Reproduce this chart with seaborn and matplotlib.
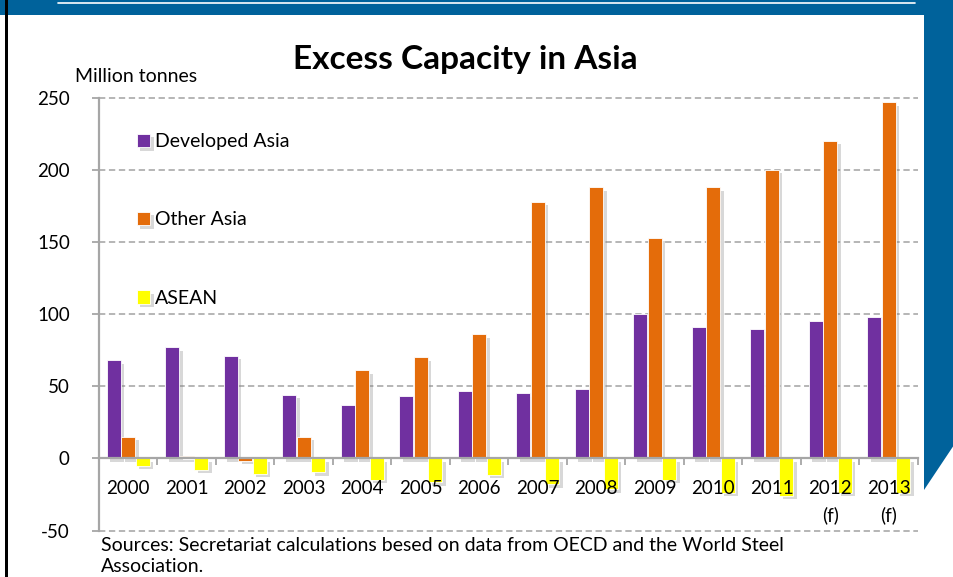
import matplotlib
matplotlib.use("Agg")
import matplotlib.pyplot as plt
import matplotlib.patheffects as pe
from matplotlib.patches import Rectangle, Polygon
import seaborn as sns
import pandas as pd
import numpy as np

# ---- data ----
years = ['2000', '2001', '2002', '2003', '2004', '2005', '2006',
         '2007', '2008', '2009', '2010', '2011', '2012', '2013']
year_labels = ['2000', '2001', '2002', '2003', '2004', '2005', '2006',
               '2007', '2008', '2009', '2010', '2011', '2012\n(f)', '2013\n(f)']
developed_asia = [68, 77, 71, 44, 37, 43, 47, 45, 48, 100, 91, 90, 95, 98]
other_asia = [15, 1.5, -1.5, 15, 61, 70, 86, 178, 188, 153, 188, 200, 220, 247]
asean = [-5, -8, -10.5, -9.5, -15, -16.5, -11.5, -18, -21.5, -15, -24, -26, -24, -24]
series_names = ['Developed Asia', 'Other Asia', 'ASEAN']
series_colors = ['#7030A0', '#E46C0A', '#FFFF00']
y_ticks = [-50, 0, 50, 100, 150, 200, 250]

df = pd.DataFrame({
    'year': years * 3,
    'series': [series_names[0]] * len(years) + [series_names[1]] * len(years) + [series_names[2]] * len(years),
    'value': developed_asia + other_asia + asean,
})

sns.set_theme(style='white')
plt.rcParams['font.family'] = ['Lato', 'DejaVu Sans']

W, H = 954, 577
fig = plt.figure(figsize=(W / 100, H / 100), dpi=100)
fig.patch.set_facecolor('white')

def fx(px):
    return px / W

def fy(py):
    return 1 - py / H

# ---- slide frame ----
blue = '#00629B'
fig.patches.append(Rectangle((0, fy(15)), 1, 15 / H, transform=fig.transFigure,
                             facecolor=blue, edgecolor='none', zorder=0))
fig.patches.append(Polygon([(fx(924), fy(0)), (fx(954), fy(0)), (fx(954), fy(445)), (fx(924), fy(490))],
                           closed=True, transform=fig.transFigure, facecolor=blue, edgecolor='none', zorder=0))
fig.patches.append(Rectangle((fx(5), 0), 3 / W, 1, transform=fig.transFigure,
                             facecolor='black', edgecolor='none', zorder=1))
fig.lines.append(plt.Line2D([fx(58), fx(915)], [fy(2.5), fy(2.5)], transform=fig.transFigure,
                            color='white', lw=1.2, zorder=2))

# ---- axes ----
ax_left, ax_right, ax_top, ax_bot = 99, 918, 97.7, 530.5
ax = fig.add_axes([fx(ax_left), fy(ax_bot), (ax_right - ax_left) / W, (ax_bot - ax_top) / H])
ax.set_facecolor('none')

sns.barplot(data=df, x='year', y='value', hue='series', order=years, hue_order=series_names,
            palette=series_colors, width=0.74, gap=0.03, saturation=1, ax=ax,
            edgecolor='white', linewidth=0.6, zorder=2)

for p in ax.patches:
    p.set_path_effects([pe.SimplePatchShadow(offset=(2.5, -2.5), shadow_rgbFace='#808080', alpha=0.3),
                        pe.Normal()])

ax.set_ylim(-50, 250)
ax.set_xlim(-0.5, len(years) - 0.5)
ax.set_yticks(y_ticks)
ax.set_yticklabels([str(v) for v in y_ticks])
ax.set_xlabel('')
ax.set_ylabel('')

gray = '#A6A6A6'
for v in [-50, 50, 100, 150, 200, 250]:
    ax.axhline(v, color='#B0B0B0', lw=1.3, ls=(0, (3.5, 2)), zorder=1, clip_on=False)

for s in ['top', 'right']:
    ax.spines[s].set_visible(False)
ax.spines['left'].set_color(gray)
ax.spines['left'].set_linewidth(1.6)
ax.spines['bottom'].set_position(('data', 0))
ax.spines['bottom'].set_color(gray)
ax.spines['bottom'].set_linewidth(1.6)
ax.spines['bottom'].set_zorder(4)
ax.xaxis.set_zorder(5)
ax.yaxis.set_zorder(5)

ax.set_xticks(np.arange(len(years)))
ax.set_xticklabels(year_labels)
ax.set_xticks(np.arange(len(years) + 1) - 0.5, minor=True)
ax.tick_params(axis='x', which='major', length=0, pad=15.5, labelsize=13.5, labelcolor='black')
ax.tick_params(axis='x', which='minor', length=5, width=1.3, color=gray, direction='out', bottom=True)
ax.tick_params(axis='y', which='major', length=5, width=1.3, color=gray, direction='out',
               pad=16, labelsize=13.5, labelcolor='black', left=True)
for t in ax.get_xticklabels():
    t.set_linespacing(1.6)

leg = ax.legend(loc='upper left', bbox_to_anchor=(0.046, 0.918), frameon=False,
                fontsize=14, labelspacing=3.15, handlelength=0.7, handleheight=0.7,
                handletextpad=0.25, borderpad=0, borderaxespad=0)
for t in leg.get_texts():
    t.set_color('black')

# ---- texts ----
fig.text(fx(465), fy(59.5), 'Excess Capacity in Asia', ha='center', va='center',
         fontsize=24, fontweight='bold', color='black')
fig.text(fx(75), fy(77), 'Million tonnes', ha='left', va='center', fontsize=14, color='black')
fig.text(fx(101), fy(537), 'Sources: Secretariat calculations besed on data from OECD and the World Steel\nAssociation.',
         ha='left', va='top', fontsize=14, color='black', linespacing=1.32)

fig.savefig('out.png', dpi=100, facecolor='white')
